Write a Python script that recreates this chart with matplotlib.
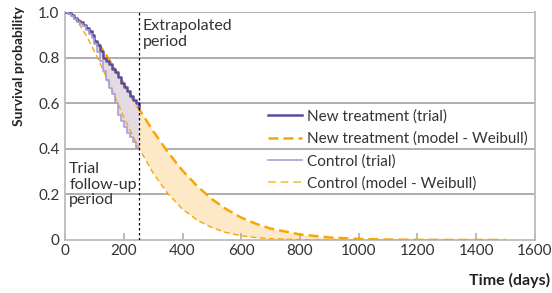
import matplotlib
matplotlib.use("Agg")
import matplotlib.pyplot as plt

plt.rcParams['font.family'] = ['Lato', 'DejaVu Sans']

# --- trial (Kaplan-Meier) curves, 0-250 days ---
km_days = [0, 10, 20, 30, 40, 50, 60, 70, 80, 90, 100, 110, 120, 130, 140,
           150, 160, 170, 180, 190, 200, 210, 220, 230, 240, 250]
km_new = [1.0, 0.995, 0.985, 0.972, 0.962, 0.955, 0.945, 0.93, 0.915, 0.898,
          0.875, 0.855, 0.83, 0.80, 0.785, 0.77, 0.752, 0.735, 0.715, 0.69,
          0.672, 0.652, 0.632, 0.615, 0.60, 0.585]
km_control = [1.0, 0.992, 0.982, 0.968, 0.958, 0.948, 0.938, 0.922, 0.905, 0.885,
              0.86, 0.825, 0.785, 0.74, 0.70, 0.665, 0.64, 0.60, 0.55, 0.52,
              0.495, 0.47, 0.45, 0.43, 0.405, 0.40]

# --- Weibull model curves ---
model_days = [0, 25, 50, 75, 100, 125, 150, 175, 200, 225, 250, 300, 350, 400,
              450, 500, 550, 600, 650, 700, 800, 900, 1000, 1100, 1200, 1300,
              1400, 1500]
model_new = [1.0, 0.988, 0.962, 0.928, 0.886, 0.840, 0.790, 0.738, 0.685, 0.631,
             0.578, 0.477, 0.385, 0.304, 0.236, 0.179, 0.134, 0.098, 0.071, 0.050,
             0.024, 0.011, 0.0045, 0.0017, 0.0006, 0.0, 0.0, 0.0]
model_control = [1.0, 0.982, 0.943, 0.890, 0.827, 0.758, 0.686, 0.612, 0.540, 0.471,
                 0.407, 0.293, 0.203, 0.135, 0.087, 0.054, 0.032, 0.0185, 0.0104,
                 0.0056, 0.0015, 0.0003, 0.0, 0.0, 0.0, 0.0, 0.0, 0.0]

CUTOFF = 250
DARK_PURPLE = "#5b4c9f"
LIGHT_PURPLE = "#a99fd8"
ORANGE = "#f7a800"
LIGHT_ORANGE = "#fcc65a"
GRID = "#a8a8a8"
TEXT = "#333333"

fig = plt.figure(figsize=(5.52, 2.93), dpi=100)
ax = fig.add_axes([0.118, 0.181, 0.851, 0.778])

# shaded gaps
ax.fill_between(km_days, km_new, km_control, step="post", color="#e4dae2", lw=0, zorder=1)
ext = [i for i, d in enumerate(model_days) if d >= CUTOFF]
ax.fill_between([model_days[i] for i in ext], [model_new[i] for i in ext],
                [model_control[i] for i in ext], color="#fde8c8", lw=0, zorder=1)

ax.plot(km_days, km_new, drawstyle="steps-post", color=DARK_PURPLE, lw=1.8,
        label="New treatment (trial)", zorder=4)
ax.plot(model_days, model_new, color=ORANGE, lw=1.8, dashes=(4, 2),
        label="New treatment (model - Weibull)", zorder=3)
ax.plot(km_days, km_control, drawstyle="steps-post", color=LIGHT_PURPLE, lw=1.2,
        label="Control (trial)", zorder=4)
ax.plot(model_days, model_control, color=ORANGE, lw=1.0, dashes=(4, 2.5), zorder=3)
# legend handle for control model is drawn lighter
ax.plot([], [], color=LIGHT_ORANGE, lw=1.4, dashes=(4, 2.5), label="Control (model - Weibull)")

ax.axvline(CUTOFF, color="black", lw=0.9, ls=(0, (2, 2)), zorder=5)

ax.set_xlim(0, 1600)
ax.set_ylim(0, 1.0)
ax.set_xticks(range(0, 1601, 200))
ax.set_yticks([0, 0.2, 0.4, 0.6, 0.8, 1.0])
ax.set_yticklabels(["0", "0.2", "0.4", "0.6", "0.8", "1.0"])
ax.tick_params(axis="x", direction="in", length=5, width=1.3, color="#b5b5b5",
               labelsize=11, labelcolor=TEXT, pad=3)
ax.tick_params(axis="y", length=0, labelsize=11, labelcolor=TEXT, pad=4)

for y in [0.2, 0.4, 0.6, 0.8, 1.0]:
    ax.axhline(y, color=GRID, lw=1.3, zorder=0)
for side in ["left", "bottom", "right"]:
    ax.spines[side].set_color("#bcbcbc")
    ax.spines[side].set_linewidth(1.3)
ax.spines["top"].set_visible(False)

fig.text(19 / 552, 1 - 66 / 293, "Survival probability", rotation=90, ha="center",
         va="center", fontsize=10, fontweight="bold", color="#222222")
fig.text(550 / 552, 1 - 280 / 293, "Time (days)", ha="right", va="center",
         fontsize=11.5, fontweight="bold", color="#222222")

ax.text(265, 0.97, "Extrapolated\nperiod", ha="left", va="top", fontsize=11.5,
        color=TEXT, linespacing=1.2)
ax.text(14, 0.34, "Trial\nfollow-up\nperiod", ha="left", va="top", fontsize=11.5,
        color=TEXT, linespacing=1.12)

ax.legend(loc="upper left", bbox_to_anchor=(0.419, 0.6), frameon=False, fontsize=11,
          handlelength=2.2, handletextpad=0.35, labelspacing=0.52, labelcolor=TEXT,
          borderaxespad=0)

fig.savefig("out.png", dpi=100)
